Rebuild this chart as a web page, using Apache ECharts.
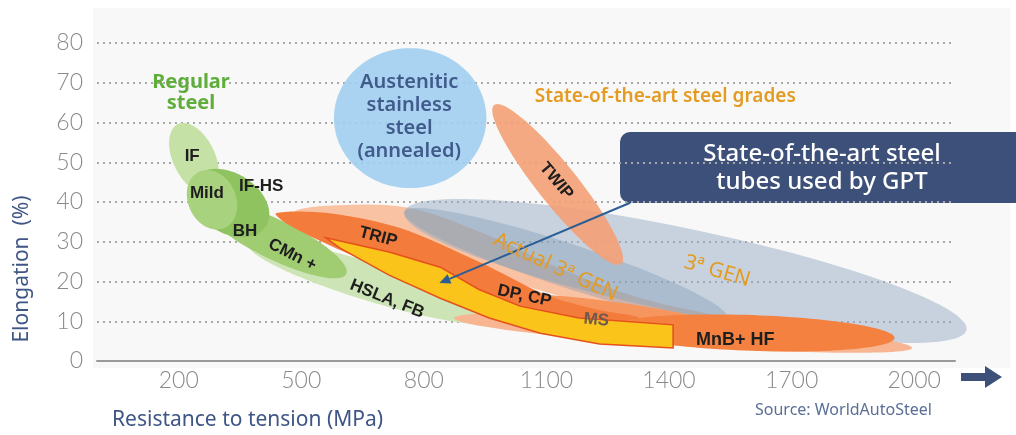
<!DOCTYPE html>
<html><head><meta charset="utf-8">
<script src="https://cdn.jsdelivr.net/npm/echarts@6/dist/echarts.min.js"></script>
<style>html,body{margin:0;padding:0;background:#fff}#c{width:1016px;height:435px}</style>
</head><body><div id="c"></div>
<script>
// ---------- axes ----------
const xTickValues = [200, 500, 800, 1100, 1400, 1700, 2000];
const yTickValues = [0, 10, 20, 30, 40, 50, 60, 70, 80];

// ---------- regions (ellipses): [MPa start, % start, MPa end, % end, half-width in %] ----------
const rgnHSLA = [372, 29.2, 977, 10.3, 4.8];
const rgnCMn = [262, 39.2, 610, 21.9, 5.0];
const rgnIF = [198, 59.6, 277, 42.5, 5.3];
const rgnIFHS = [233, 45.5, 414, 34.0, 7.5];
const rgnMild = [250, 47.6, 313, 33.5, 6.0];
const rgnGen3 = [752, 37.5, 2128, 7.8, 10.6];
const rgnGen3Actual = [752, 37.5, 1543, 10.8, 5.5];
const rgnTWIP = [972, 64.4, 1283, 24.4, 5.0];
const rgnLowBand = [874, 10.8, 1995, 3.3, 3.3];
const rgnMS = [936, 15.9, 1548, 7.8, 3.3];
const rgnMnB = [1254, 8.3, 1952, 5.8, 4.5];
const rgnAustenitic = [580, 61.1, 953, 61.1, 17.6];

// ---------- regions (outlines): [MPa, %] ----------
const polyHighBand = [[482,37.5],[593,39.2],[764,38.5],[936,32.5],[1131,23.4],[1327,15.9],[1572,9.8],
                      [1572,7.8],[1327,11.3],[1131,16.4],[936,22.4],[740,28.4],[544,33.5]];
const polyTRIP = [[438,37.2],[568,37.2],[740,33.5],[936,24.9],[1100,16.6],[1229,12.8],[1327,10.8],
                  [1278,8.8],[1082,11.3],[911,15.3],[740,21.6],[568,29.2],[470,34.2]];
const polyGPT = [[560,31],[715,27.4],[840,23.6],[935,18],[1035,13.8],[1180,10.8],[1410,9.1],
                 [1410,3.3],[1230,4.3],[1085,7],[960,10.8],[840,15.8],[715,21.6],[595,28.4]];

// ---------- leader arrow ----------
const arrowFrom = [1305, 39.8];
const arrowTo = [838, 19.6];

// ---------- labels ----------
const labelTexts = ['Regular\nsteel','IF','Mild','IF-HS','BH','CMn +','HSLA, FB','TRIP','DP, CP','MS','MnB+ HF','TWIP',
  'Austenitic\nstainless\nsteel\n(annealed)','State-of-the-art steel grades','Actual 3ª GEN','3ª GEN'];
const labelX = [230, 233, 269, 402, 362, 478, 710, 688, 1046, 1222, 1562, 1124, 764, 1391, 1122, 1518];
const labelY = [67.4, 51.6, 42.3, 44.0, 32.7, 26.7, 15.6, 31.2, 16.4, 10.3, 5.3, 45.3, 61.4, 66.4, 23.6, 22.6];

// ---------- styles ----------
const ROUND = "'Noto Sans', 'Open Sans', sans-serif";
const inner = {font: "bold 17px 'Liberation Sans', Arial, sans-serif", fill: '#1e1e1e'};
const gold = '#e39b22';
const labelStyles = [
  {font: 'bold 20px ' + ROUND, fill: '#5fae3b', lh: 21, rot: 0},
  Object.assign({rot: 0}, inner),
  Object.assign({rot: 0}, inner),
  Object.assign({rot: 0}, inner),
  Object.assign({rot: 0}, inner),
  Object.assign({rot: 27}, inner),
  Object.assign({rot: 22}, inner),
  Object.assign({rot: 15}, inner),
  Object.assign({rot: 12}, inner),
  {font: "bold 17px 'Liberation Sans', Arial, sans-serif", fill: '#6e5a4e', rot: 5},
  {font: "bold 18px 'Liberation Sans', Arial, sans-serif", fill: '#1e1e1e', rot: 0},
  Object.assign({}, inner, {rot: 50}),
  {font: '600 20px ' + ROUND, fill: '#415a8c', lh: 23, rot: 0},
  {font: '600 19px ' + ROUND, fill: gold, rot: 0},
  {font: '21px ' + ROUND, fill: gold, rot: 25},
  {font: '21px ' + ROUND, fill: gold, rot: 16}
];

function ellipseSeries(rgn, style) {
  return {
    type: 'custom', coordinateSystem: 'cartesian2d', silent: true,
    data: [rgn], encode: {x: [0, 2], y: [1, 3]},
    renderItem: function (params, api) {
      const p1 = api.coord([rgn[0], rgn[1]]), p2 = api.coord([rgn[2], rgn[3]]);
      const hw = api.size([0, rgn[4]])[1];
      const cx = (p1[0] + p2[0]) / 2, cy = (p1[1] + p2[1]) / 2;
      const dx = p2[0] - p1[0], dy = p2[1] - p1[1];
      const a = Math.atan2(dy, dx), L = Math.hypot(dx, dy) / 2;
      const pts = [];
      for (let i = 0; i < 120; i++) {
        const t = i / 120 * 2 * Math.PI;
        const lx = L * Math.cos(t), ly = hw * Math.sin(t);
        pts.push([cx + lx * Math.cos(a) - ly * Math.sin(a), cy + lx * Math.sin(a) + ly * Math.cos(a)]);
      }
      return {type: 'polygon', shape: {points: pts}, style: style};
    }
  };
}
function polySeries(poly, style, smooth) {
  return {
    type: 'custom', coordinateSystem: 'cartesian2d', silent: true,
    data: [poly[0]],
    renderItem: function (params, api) {
      return {type: 'polygon', shape: {points: poly.map(p => api.coord(p)), smooth: smooth},
              style: style};
    }
  };
}

const series = [
  ellipseSeries(rgnHSLA, {fill: '#cde5b6'}),
  ellipseSeries(rgnCMn, {fill: '#a0cd72'}),
  ellipseSeries(rgnIF, {fill: '#c6e1a6'}),
  ellipseSeries(rgnIFHS, {fill: '#8ec35f'}),
  ellipseSeries(rgnMild, {fill: '#a8d27e'}),
  polySeries(polyHighBand, {fill: '#f9c2a3'}, 0.35),
  ellipseSeries(rgnGen3, {fill: 'rgba(150,172,195,0.5)'}),
  ellipseSeries(rgnGen3Actual, {fill: 'rgba(120,148,178,0.35)'}),
  ellipseSeries(rgnTWIP, {fill: 'rgba(244,160,118,0.9)'}),
  ellipseSeries(rgnLowBand, {fill: '#f8b592'}),
  ellipseSeries(rgnMS, {fill: '#f6965e'}),
  polySeries(polyTRIP, {fill: '#f37b3b'}, 0.3),
  ellipseSeries(rgnMnB, {fill: '#f4813f'}),
  polySeries(polyGPT, {fill: '#fbc41a', stroke: '#e5501d', lineWidth: 1.5}, 0),
  ellipseSeries(rgnAustenitic, {fill: 'rgba(160,206,238,0.9)'}),
  {
    type: 'custom', coordinateSystem: 'cartesian2d', silent: true,
    data: [arrowFrom],
    renderItem: function (params, api) {
      const a = api.coord(arrowFrom), b = api.coord(arrowTo);
      const ang = Math.atan2(b[1] - a[1], b[0] - a[0]);
      const hl = 11, hwid = 5;
      const bx = b[0] - hl * Math.cos(ang), by = b[1] - hl * Math.sin(ang);
      return {type: 'group', children: [
        {type: 'line', shape: {x1: a[0], y1: a[1], x2: bx, y2: by}, style: {stroke: '#2b5e95', lineWidth: 2}},
        {type: 'polygon', shape: {points: [b, [bx - hwid * Math.sin(ang), by + hwid * Math.cos(ang)],
          [bx + hwid * Math.sin(ang), by - hwid * Math.cos(ang)]]}, style: {fill: '#2b5e95'}}
      ]};
    }
  },
  {
    type: 'custom', coordinateSystem: 'cartesian2d', silent: true,
    data: labelTexts.map((t, i) => [labelX[i], labelY[i]]),
    renderItem: function (params, api) {
      const i = params.dataIndex;
      const p = api.coord([labelX[i], labelY[i]]);
      const s = labelStyles[i];
      return {type: 'text', x: p[0], y: p[1], rotation: -s.rot * Math.PI / 180,
        style: {text: labelTexts[i], font: s.font, fill: s.fill, align: 'center', verticalAlign: 'middle',
                textAlign: 'center', textVerticalAlign: 'middle', lineHeight: s.lh || undefined}};
    }
  }
];

const chart = echarts.init(document.getElementById('c'), null, {renderer: 'canvas'});
chart.setOption({
  animation: false,
  backgroundColor: '#ffffff',
  textStyle: {fontFamily: "Lato, 'Noto Sans', sans-serif"},
  grid: {left: 97, right: 61, top: 43, bottom: 74, containLabel: false},
  xAxis: {
    type: 'value', min: 0, max: 2100, interval: 100,
    axisLine: {lineStyle: {color: '#9a9a9a', width: 2}},
    axisTick: {show: false},
    splitLine: {show: false},
    axisLabel: {interval: 0, color: '#8a8a8a', fontSize: 23, fontWeight: 300, margin: 8,
      formatter: v => (xTickValues.indexOf(v) >= 0 ? String(v) : '')}
  },
  yAxis: {
    type: 'value', min: 0, max: 80, interval: 10, z: 0,
    axisLine: {show: false}, axisTick: {show: false},
    splitLine: {lineStyle: {color: '#a8a8a8', type: [2, 4], width: 2}},
    axisLabel: {color: '#8a8a8a', fontSize: 23, fontWeight: 300, margin: 14,
      formatter: v => (yTickValues.indexOf(v) >= 0 ? String(v) : '')}
  },
  graphic: [
    {type: 'rect', z: -10, shape: {x: 93, y: 8, width: 917, height: 360}, style: {fill: '#f8f8f8'}, silent: true},
    {type: 'group', z: 50, children: [
      {type: 'rect', shape: {x: 620, y: 132, width: 400, height: 71, r: [10, 0, 0, 10]}, style: {fill: '#3d5079'}},
      {type: 'text', x: 822, y: 168, style: {text: 'State-of-the-art steel\ntubes used by GPT', fill: '#ffffff',
        font: "500 24px 'Noto Sans', sans-serif", lineHeight: 28, align: 'center', verticalAlign: 'middle'}}
    ]},
    {type: 'text', x: 22, y: 269, rotation: Math.PI / 2, z: 50,
      style: {text: 'Elongation  (%)', fill: '#3e5585', font: "21px 'Noto Sans', sans-serif", align: 'center', verticalAlign: 'middle'}},
    {type: 'text', x: 112, y: 420, z: 50,
      style: {text: 'Resistance to tension (MPa)', fill: '#3e5585', font: "21px 'Noto Sans', sans-serif", align: 'left', verticalAlign: 'middle'}},
    {type: 'text', x: 755, y: 410, z: 50,
      style: {text: 'Source: WorldAutoSteel', fill: '#5a6e96', font: "16px 'Noto Sans', sans-serif", align: 'left', verticalAlign: 'middle'}},
    {type: 'polygon', z: 50, shape: {points: [[961, 373], [985, 373], [985, 366], [1002, 377], [985, 388], [985, 381], [961, 381]]},
      style: {fill: '#3d5079'}}
  ],
  series: series
});
</script></body></html>
